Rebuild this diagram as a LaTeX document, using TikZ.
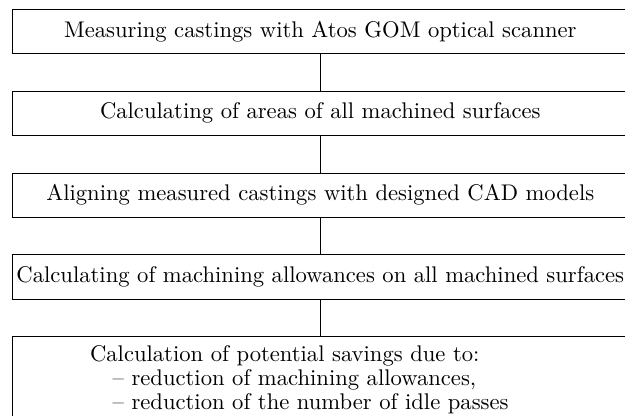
\documentclass[tikz,border=0pt]{standalone}
\usepackage{tikz}
\usetikzlibrary{positioning}

\begin{document}
\begin{tikzpicture}[x=0.4808pt,y=-0.4808pt,
	font=\fontsize{10.88}{11.5}\selectfont,
	stage/.style={draw,rectangle,minimum width=295.8pt,minimum height=21.3pt,inner sep=0pt},
	node distance=17.65pt]
		\useasboundingbox (0,0) rectangle (625,415);
		\node[stage] (scan) at (320.3,31.5) {Measuring castings with Atos GOM optical scanner};
		\node[stage,below=of scan] (areas) {Calculating of areas of all machined surfaces};
		\node[stage,below=of areas] (align) {Aligning measured castings with designed CAD models};
		\node[stage,below=of align] (allow) {Calculating of machining allowances on all machined surfaces};
		\node[stage,below=of allow,minimum height=60pt] (save) {};
		\node[anchor=north west,align=left,inner sep=0pt] (savetext) at ([xshift=37.2pt,yshift=-4.3pt]save.north west)
			{Calculation of potential savings due to:\\
			\hspace*{1em}-- reduction of machining allowances,\\
			\hspace*{1em}-- reduction of the number of idle passes};
		\draw (scan) -- (areas);
		\draw (areas) -- (align);
		\draw (align) -- (allow);
		\draw (allow) -- (save);
		\end{tikzpicture}
\end{document}
